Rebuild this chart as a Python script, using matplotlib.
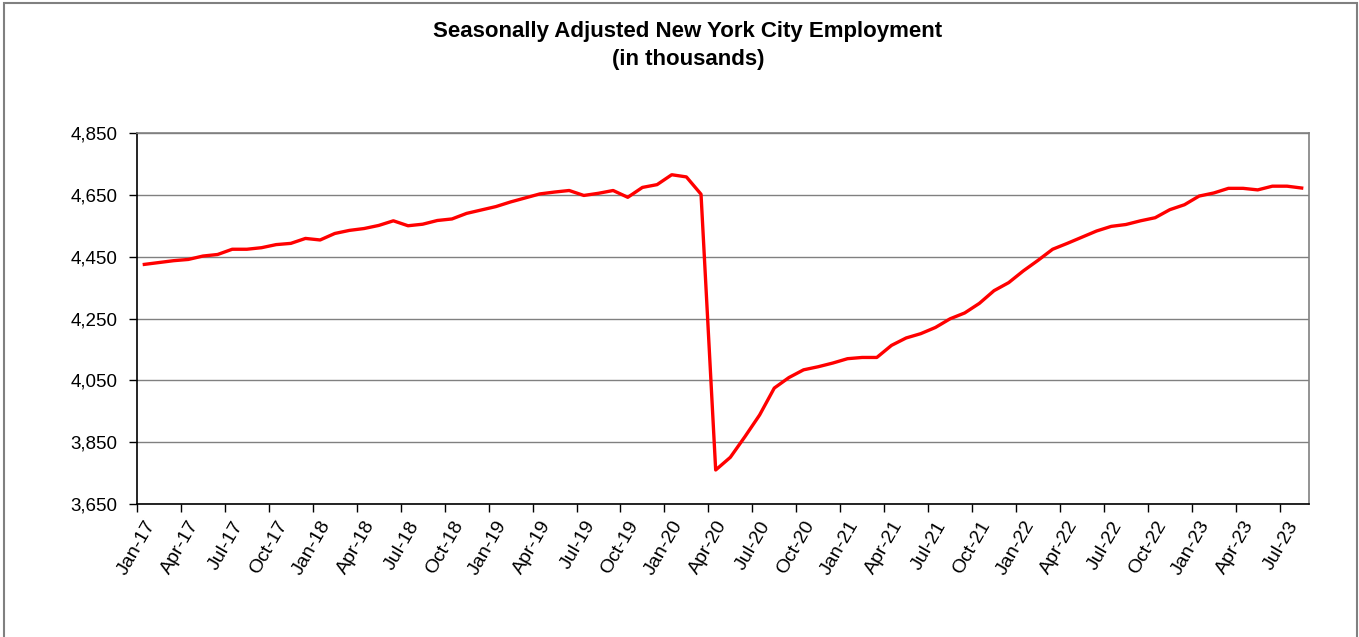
import numpy as np
import matplotlib
matplotlib.use("Agg")
import matplotlib.pyplot as plt
import matplotlib.transforms as mtransforms
from matplotlib.patches import Rectangle
from matplotlib.ticker import FuncFormatter

plt.rcParams['font.family'] = ['Liberation Sans', 'DejaVu Sans']

# monthly employment, Jan-17 .. Jul-23 (thousands)
employment = [
    4425, 4431, 4437, 4441, 4452, 4457, 4474, 4474, 4479, 4489, 4493, 4509,   # 2017
    4504, 4525, 4535, 4541, 4551, 4566, 4550, 4555, 4567, 4572, 4590, 4601,   # 2018
    4612, 4627, 4640, 4653, 4659, 4664, 4648, 4655, 4664, 4642, 4674, 4683,   # 2019
    4715, 4708, 4652, 3760, 3801, 3868, 3938, 4025, 4059, 4084, 4094, 4106,   # 2020
    4120, 4124, 4124, 4163, 4187, 4201, 4221, 4249, 4268, 4299, 4340, 4366,   # 2021
    4404, 4438, 4474, 4493, 4513, 4533, 4548, 4554, 4566, 4576, 4602, 4618,   # 2022
    4646, 4656, 4671, 4671, 4666, 4678, 4678, 4672,                           # 2023
]
tick_labels = ['Jan-17', 'Apr-17', 'Jul-17', 'Oct-17', 'Jan-18', 'Apr-18', 'Jul-18',
               'Oct-18', 'Jan-19', 'Apr-19', 'Jul-19', 'Oct-19', 'Jan-20', 'Apr-20',
               'Jul-20', 'Oct-20', 'Jan-21', 'Apr-21', 'Jul-21', 'Oct-21', 'Jan-22',
               'Apr-22', 'Jul-22', 'Oct-22', 'Jan-23', 'Apr-23', 'Jul-23']
y_ticks = [3650, 3850, 4050, 4250, 4450, 4650, 4850]

months = np.arange(len(employment))

fig = plt.figure(figsize=(13.59, 6.37), dpi=100)
# outer chart frame
fig.patches.append(Rectangle((4 / 1359, -0.05), 1353 / 1359, 1.05 - 3 / 637,
                             transform=fig.transFigure, fill=False,
                             edgecolor='#808080', linewidth=1.5))

ax = fig.add_axes([137 / 1359, 1 - 504 / 637, 1172 / 1359, 371 / 637])
ax.plot(months, employment, color='#ff0000', linewidth=2.4)

ax.set_xlim(-0.5, len(employment) - 0.5)
ax.set_ylim(3650, 4850)
ax.set_xticks(np.arange(0, len(employment), 3) - 0.5)
ax.set_xticklabels(tick_labels, rotation=60, ha='right', rotation_mode='anchor')
ax.set_yticks(y_ticks)
ax.yaxis.set_major_formatter(FuncFormatter(lambda v, p: f'{int(v):,}'))
ax.tick_params(axis='both', labelsize=13.5, direction='out', length=6, width=1, color='black')
ax.tick_params(axis='y', pad=8)
ax.tick_params(axis='x', labelsize=14, pad=4)

# nudge x labels a bit right, like the original
shift = mtransforms.ScaledTranslation(7 / 100, 0, fig.dpi_scale_trans)
for lab in ax.get_xticklabels():
    lab.set_transform(lab.get_transform() + shift)

ax.grid(axis='y', color='#808080', linewidth=1)
ax.set_axisbelow(True)
ax.spines['left'].set_color('black')
ax.spines['bottom'].set_color('black')
ax.spines['top'].set_color('#808080')
ax.spines['right'].set_color('#808080')
for s in ax.spines.values():
    s.set_linewidth(1.2)

fig.text(688 / 1359, 1 - 32 / 637, 'Seasonally Adjusted New York City Employment',
         ha='center', va='center', fontsize=16, fontweight='bold')
fig.text(688 / 1359, 1 - 59 / 637, '(in thousands)',
         ha='center', va='center', fontsize=16, fontweight='bold')

fig.savefig('out.png', dpi=100)
